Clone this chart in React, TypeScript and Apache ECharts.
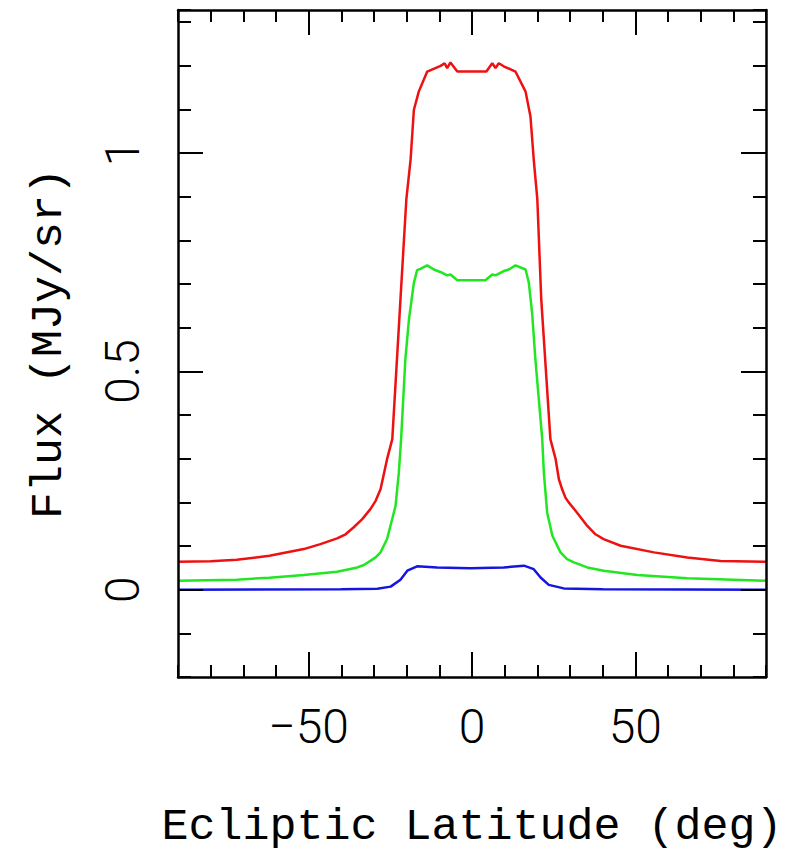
import React, { useEffect, useRef } from "react";
import * as echarts from "echarts";

const redLat = [-90, -80, -72, -62, -51.5, -46.4, -41.3, -38.7, -36.2, -33.6, -31.1, -29.5, -28, -26, -24.4, -21.9, -20.1, -18.8, -17.8, -16.3, -13.7, -9.6, -8.4, -7.6, -6.6, -4.5, 4.4, 6.2, 7.2, 8.2, 9.7, 13.3, 16.4, 17.9, 18.9, 20.0, 21.2, 24.0, 25.6, 26.6, 27.6, 28.6, 29.6, 31.7, 35.3, 37.8, 40.3, 45.5, 55.7, 65.9, 76.1, 90];
const redFlux = [0.064, 0.065, 0.0686, 0.0778, 0.093, 0.1045, 0.1175, 0.127, 0.143, 0.1617, 0.1846, 0.2036, 0.23, 0.299, 0.345, 0.665, 0.894, 0.985, 1.099, 1.141, 1.187, 1.2, 1.206, 1.195, 1.208, 1.187, 1.187, 1.206, 1.195, 1.206, 1.199, 1.187, 1.141, 1.084, 0.985, 0.894, 0.665, 0.345, 0.299, 0.253, 0.23, 0.211, 0.2, 0.181, 0.146, 0.127, 0.116, 0.1006, 0.0855, 0.074, 0.066, 0.064];

const greenLat = [-90, -72, -62, -51.5, -41.3, -35.1, -33.1, -31.1, -29.5, -28, -26, -23.4, -22.4, -21.7, -20.4, -19.3, -17.8, -16.8, -15.8, -13.7, -11.7, -9.1, -7.6, -6.6, -4.5, 4.1, 6.2, 7.2, 9.7, 11.3, 13.3, 16.4, 17.4, 18.4, 19.4, 21.5, 22.0, 23.0, 24.6, 27.1, 29.1, 31.2, 35.3, 40.3, 50.6, 65.9, 90];
const greenFlux = [0.0206, 0.023, 0.0275, 0.0336, 0.041, 0.051, 0.0565, 0.066, 0.074, 0.0855, 0.116, 0.192, 0.268, 0.345, 0.528, 0.619, 0.703, 0.732, 0.735, 0.743, 0.7335, 0.726, 0.72, 0.722, 0.709, 0.709, 0.722, 0.72, 0.73, 0.7335, 0.743, 0.7335, 0.703, 0.634, 0.528, 0.345, 0.268, 0.177, 0.1235, 0.0855, 0.07, 0.0627, 0.051, 0.0435, 0.0336, 0.026, 0.0206];

const blueLat = [-90, -40, -29, -24.9, -21.9, -19.8, -16.8, -10.7, -0.5, 9.7, 15.9, 18.9, 21.0, 23.5, 28.1, 40, 90];
const blueFlux = [0, 0.001, 0.002, 0.007, 0.023, 0.0435, 0.0535, 0.051, 0.049, 0.051, 0.055, 0.047, 0.028, 0.011, 0.003, 0.001, 0];

const xMajorTicks = [-50, 0, 50];
const yMajorTicks = [0, 0.5, 1];
const xTitle = "Ecliptic Latitude (deg)";
const yTitle = "Flux (MJy/sr)";

const X_MIN = -90;
const X_MAX = 90;
const Y_MIN = -0.2;
const Y_MAX = 1.328;

const pairs = (xs: number[], ys: number[]) => xs.map((x, i) => [x, ys[i]]);

export default function App() {
  const ref = useRef<HTMLDivElement>(null);
  useEffect(() => {
    if (!ref.current) return;
    const chart = echarts.init(ref.current, undefined, { renderer: "svg" });
    const axisLine = { show: true, onZero: false, lineStyle: { color: "#000", width: 2.5 } };
    const noLine = { show: false, onZero: false };
    const tickFont = { fontFamily: "Roboto, 'Liberation Sans', sans-serif", fontWeight: 300 as any, fontSize: 48, color: "#000" };
    const titleFont = { fontFamily: "'Liberation Mono', 'DejaVu Sans Mono', monospace", fontSize: 45, color: "#000" };
    const minorX = (pos: "bottom" | "top") => ({
      type: "value", position: pos, min: X_MIN, max: X_MAX, interval: 10, z: 5,
      axisLine, splitLine: { show: false },
      axisTick: { show: true, inside: true, length: 12, lineStyle: { color: "#000", width: 2 } },
      axisLabel: { show: false },
    });
    const majorX = (pos: "bottom" | "top", labels: boolean) => ({
      type: "value", position: pos, min: X_MIN, max: X_MAX, z: 5,
      axisLine: noLine, splitLine: { show: false },
      axisTick: { show: true, inside: true, length: 25, customValues: xMajorTicks, lineStyle: { color: "#000", width: 2 } },
      axisLabel: {
        show: labels, customValues: xMajorTicks, margin: 25, ...tickFont,
        formatter: (v: number) => (v < 0 ? "\u2212" + Math.abs(v) : String(v)),
      },
      ...(labels ? { name: xTitle, nameLocation: "middle", nameGap: 128, nameTextStyle: titleFont } : {}),
    });
    const minorY = (pos: "left" | "right") => ({
      type: "value", position: pos, min: Y_MIN, max: Y_MAX, interval: 0.1, z: 5,
      axisLine, splitLine: { show: false },
      axisTick: { show: true, inside: true, length: 13, lineStyle: { color: "#000", width: 2 } },
      axisLabel: { show: false },
    });
    const majorY = (pos: "left" | "right", labels: boolean) => ({
      type: "value", position: pos, min: Y_MIN, max: Y_MAX, z: 5,
      axisLine: noLine, splitLine: { show: false },
      axisTick: { show: true, inside: true, length: 25, customValues: yMajorTicks, lineStyle: { color: "#000", width: 2 } },
      axisLabel: {
        show: labels, customValues: yMajorTicks, rotate: 90, margin: 32, ...tickFont,
        formatter: (v: number) => String(v),
      },
      ...(labels ? { name: yTitle, nameLocation: "middle", nameGap: 106, nameRotate: 90, nameTextStyle: titleFont } : {}),
    });
    const line = (data: number[][], color: string) => ({
      type: "line", data, xAxisIndex: 0, yAxisIndex: 0, showSymbol: false, symbol: "none",
      lineStyle: { color, width: 2.5 }, z: 2,
    });
    chart.setOption({
      animation: false,
      backgroundColor: "#fff",
      grid: { left: 178, right: 26, top: 10, bottom: 187, containLabel: false },
      xAxis: [minorX("bottom"), majorX("bottom", true), minorX("top"), majorX("top", false)],
      yAxis: [minorY("left"), majorY("left", true), minorY("right"), majorY("right", false)],
      series: [
        line(pairs(redLat, redFlux), "#ee1111"),
        line(pairs(greenLat, greenFlux), "#22e622"),
        line(pairs(blueLat, blueFlux), "#1515e0"),
      ],
    });
    return () => chart.dispose();
  }, []);
  return <div ref={ref} style={{ width: 792, height: 864, position: "absolute", left: 0, top: 0 }} />;
}
